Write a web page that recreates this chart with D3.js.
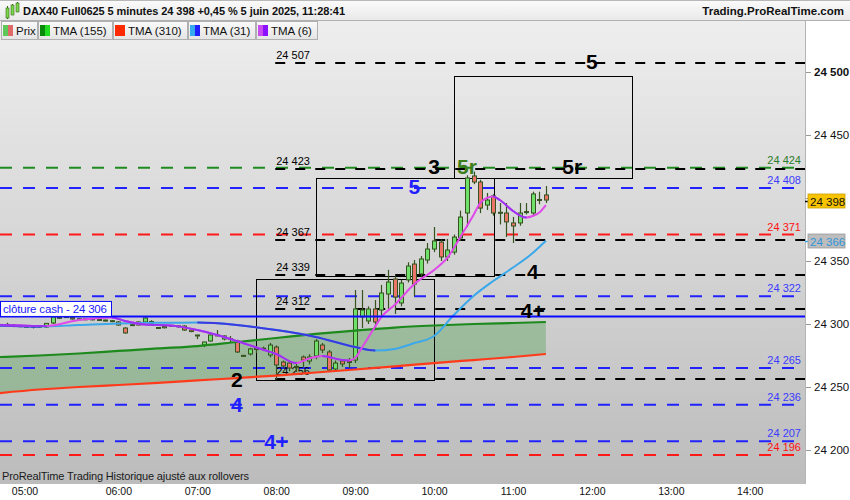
<!DOCTYPE html>
<html><head><meta charset="utf-8">
<script src="https://cdn.jsdelivr.net/npm/d3@7"></script>
<style>body{margin:0;background:#fff}svg{display:block;font-family:"Liberation Sans",Arial,sans-serif}</style>
</head><body><svg id="c" width="850" height="500"></svg>
<script>
// ---------- DATA ----------
const candleTimes = ["04:30","04:35","04:40","04:45","04:50","04:55","05:00","05:05","05:10","05:15","05:20","05:25","05:30","05:35","05:40","05:45","05:50","05:55","06:00","06:05","06:10","06:15","06:20","06:25","06:30","06:35","06:40","06:45","06:50","06:55","07:00","07:05","07:10","07:15","07:20","07:25","07:30","07:35","07:40","07:45","07:50","07:55","08:00","08:05","08:10","08:15","08:20","08:25","08:30","08:35","08:40","08:45","08:50","08:55","09:00","09:05","09:10","09:15","09:20","09:25","09:30","09:35","09:40","09:45","09:50","09:55","10:00","10:05","10:10","10:15","10:20","10:25","10:30","10:35","10:40","10:45","10:50","10:55","11:00","11:05","11:10","11:15","11:20","11:25"];
const opens  = [24299,24299.5,24299,24298.5,24298,24297.5,24297.8,24297.6,24300.8,24305,24305.4,24305,24304,24303.5,24304,24303.2,24303,24302.5,24301.6,24296.8,24299.2,24299.2,24301.6,24302,24296.9,24297,24298.5,24298.4,24298.4,24295.2,24291,24283.3,24286.5,24291,24288.1,24288.2,24286.5,24274.8,24276.2,24280.2,24280,24275.4,24281.7,24269.8,24269,24266,24273.8,24270.6,24274.6,24283.3,24277.8,24264.3,24270.6,24269.5,24271.4,24305.6,24302.4,24311.9,24311.1,24323.8,24335.7,24316.7,24335,24347.6,24339.7,24350.8,24359.5,24365,24353.2,24357.1,24368.3,24388.1,24417.5,24412.7,24394.4,24401.6,24388.5,24388.1,24380.2,24380.2,24389,24388.1,24398.6,24402.4];
const highs  = [24300,24301,24300,24299.5,24299,24298.5,24298.5,24300.5,24306,24305.8,24306,24305.5,24304.5,24304.5,24304.5,24303.6,24303.5,24303,24302.4,24297.5,24300,24302,24305.2,24303,24297.3,24298.5,24299,24299,24299,24296,24291.3,24286,24292,24295.2,24291,24290.5,24287.5,24275.2,24281,24280.4,24282,24285,24283,24271,24270.5,24270,24275,24276,24288,24285,24279.4,24271,24272,24273,24327,24327,24314,24319,24331,24343,24338,24335,24349,24350.8,24354,24364.3,24377,24367,24367.5,24371,24390,24418,24421,24414.5,24404,24403,24396,24396,24385,24396,24396,24405,24405,24409.5];
const lows   = [24298,24298.5,24297.5,24297.5,24297,24296.5,24297,24297,24300,24304.3,24305,24303.5,24303,24303,24303,24302.8,24302,24301.5,24298.6,24292.3,24298.5,24299,24301,24300,24296.3,24296.5,24298,24297,24294.5,24293.5,24288,24281.7,24286,24290.3,24287,24285.7,24277,24274.2,24275,24277,24278.5,24273.5,24256,24265,24262.5,24262,24266,24268,24272,24277,24262,24262,24266,24265,24269,24296.8,24300,24296.8,24306,24312,24308,24314,24333,24322,24337,24348,24357,24350,24350,24355,24366,24377,24411,24388,24390.5,24386,24379,24369,24364.3,24378,24387,24386,24395,24396];
const closes = [24299.5,24299,24298.5,24298,24297.5,24297.8,24297.6,24300.5,24305.6,24304.8,24305.6,24304,24303.5,24304,24303.3,24303.1,24302.5,24302,24299.2,24292.9,24299,24301.6,24304.8,24300.5,24296.8,24298,24298.4,24298,24295.2,24294,24290.8,24285.7,24291.3,24290.8,24290.5,24288,24277.8,24274.6,24280.2,24280,24280.8,24283.3,24267.5,24266.7,24265.1,24265.9,24271.4,24273.8,24286.5,24279.4,24263.5,24269,24268.3,24270.2,24311.9,24311.1,24311.9,24301.6,24324.6,24333.3,24321.4,24332.5,24346,24331.7,24351.6,24359.5,24365.9,24353.2,24358.7,24369,24384.9,24415.9,24412.7,24392,24398.4,24388.1,24388,24381,24377.8,24388.1,24388.7,24403.2,24398.2,24398.4];

// moving averages
const slowTimes = ["04:30","05:00","05:30","06:00","06:30","07:00","07:30","08:00","08:30","09:00","09:30","10:00","10:30","11:00","11:25"];
const tma155 = [24273.8,24275,24276.6,24278.6,24280.6,24282.5,24285.7,24288.9,24292.1,24294.8,24297.2,24298.8,24300,24300.8,24301.6];
const tma310 = [24245.2,24248,24250,24251.6,24253.2,24255.2,24257.1,24259.1,24261.5,24263.9,24266.3,24269,24271.4,24273.8,24276.2];
const tma31Times = ["04:30","05:00","05:30","06:00","06:30","07:00","07:30","08:00","08:30","09:00","09:15","09:30","09:45","10:00","10:15","10:30","10:45","11:00","11:15","11:25"];
const tma31 = [24298.8,24298,24299.2,24300.4,24301,24301.1,24299.2,24295.2,24289.7,24281.7,24279,24280.2,24284.9,24290.5,24307.1,24322.2,24334.1,24344.8,24356.3,24366];
const tma6Times = ["04:30","04:45","05:05","05:30","05:55","06:05","06:20","06:40","07:00","07:15","07:30","07:45","08:00","08:15","08:25","08:35","08:50","08:55","09:00","09:05","09:15","09:20","09:30","09:45","10:00","10:10","10:20","10:25","10:30","10:35","10:40","10:45","10:50","11:00","11:10","11:15","11:20","11:25"];
const tma6 = [24299.2,24298.8,24298.4,24303.2,24305.2,24302.4,24299.6,24298.8,24295.2,24291.3,24286.5,24281.3,24276.2,24269,24272.6,24274.6,24271.4,24271,24273,24281,24297.6,24305.6,24315.1,24331.7,24342.9,24352.4,24369,24377.8,24386.5,24396,24400,24401.2,24398.4,24389.7,24384.5,24385.7,24388.5,24394.4];

// horizontal levels
const colorLevels = [24424,24408,24371,24322,24265,24236,24207,24196];
const colorLevelKinds = ["green","blue","red","blue","blue","blue","blue","red"];
const blackLevels = [24507,24423,24367,24339,24312,24256];
const blackLevelStart = "08:00";
const cashClose = 24306;

// boxes (time start, time end, price low, price high)
const boxStarts = ["07:45","08:30","10:15"];
const boxEnds   = ["10:00","10:45","12:30"];
const boxLows   = [24256,24338,24416];
const boxHighs  = [24336,24416,24497];

// annotations
const noteTexts  = ["5","3","5r","5r","5","4","4+","2","4","4+"];
const noteTimes  = ["12:00","10:00","10:25","11:45","09:45","11:15","11:15","07:30","07:30","08:00"];
const notePrices = [24508,24425,24425,24425,24409,24342,24311,24256,24236,24207];
const noteKinds  = ["black","black","green","black","blue","black","black","black","blue","blue"];

const priceTicks = [24200,24250,24300,24350,24400,24450,24500];
const timeTicks = ["05:00","06:00","07:00","08:00","09:00","10:00","11:00","12:00","13:00","14:00"];
const lastPrice = 24398, lastTma31 = 24366;

// ---------- CHART ----------
const svg = d3.select("#c");
const PL=0, PR=805, PT=21, PB=484;
const parseT = s => { const [h,m] = s.split(":").map(Number); return h*60+m; };
const x = d3.scaleLinear().domain([parseT("04:30"), parseT("14:42")]).range([PL, PR]);
const y = d3.scaleLinear().domain([24200, 24500]).range([450, 72]);
const fmt = v => d3.format(",")(Math.round(v)).replace(",", " ");
const kindColor = {green:"#1f8a1f", blue:"#2222ff", red:"#ff1a1a", black:"#000"};
const labelColor = {green:"#2a7d2a", blue:"#3b3bff", red:"#ff1010"};

const defs = svg.append("defs");
const bg = defs.append("linearGradient").attr("id","bg").attr("x1",0).attr("x2",0).attr("y1",0).attr("y2",1);
bg.append("stop").attr("offset","0%").attr("stop-color","#eeeeee");
bg.append("stop").attr("offset","100%").attr("stop-color","#bcbcbc");
const hg = defs.append("linearGradient").attr("id","hg").attr("x1",0).attr("x2",0).attr("y1",0).attr("y2",1);
hg.append("stop").attr("offset","0%").attr("stop-color","#fbfbfb");
hg.append("stop").attr("offset","100%").attr("stop-color","#e9e9e9");
const lg = defs.append("linearGradient").attr("id","lg").attr("x1",0).attr("x2",0).attr("y1",0).attr("y2",1);
lg.append("stop").attr("offset","0%").attr("stop-color","#fafafa");
lg.append("stop").attr("offset","100%").attr("stop-color","#e4e4e4");
defs.append("clipPath").attr("id","plotclip").append("rect").attr("x",PL).attr("y",PT).attr("width",PR-PL).attr("height",PB-PT);

svg.append("rect").attr("width",850).attr("height",500).attr("fill","#fff");
svg.append("rect").attr("x",PL).attr("y",PT).attr("width",PR-PL).attr("height",PB-PT).attr("fill","url(#bg)");

const plot = svg.append("g").attr("clip-path","url(#plotclip)");

// fill between TMA155 and TMA310
plot.append("path")
  .datum(slowTimes.map((t,i)=>({t:parseT(t), a:tma155[i], b:tma310[i]})))
  .attr("d", d3.area().x(d=>x(d.t)).y0(d=>y(d.b)).y1(d=>y(d.a)).curve(d3.curveMonotoneX))
  .attr("fill","rgba(0,128,0,0.23)");

// colored dashed levels
plot.selectAll(".cl").data(colorLevels).join("line")
  .attr("x1",PL).attr("x2",PR).attr("y1",d=>y(d)).attr("y2",d=>y(d))
  .attr("stroke",(d,i)=>kindColor[colorLevelKinds[i]]).attr("stroke-width",2)
  .attr("stroke-dasharray","12,11");
// black dashed levels
plot.selectAll(".bl").data(blackLevels).join("line")
  .attr("x1",x(parseT(blackLevelStart))-1).attr("x2",PR).attr("y1",d=>Math.round(y(d))).attr("y2",d=>Math.round(y(d)))
  .attr("stroke","#000").attr("stroke-width",2).attr("stroke-dasharray","10,10");
plot.selectAll(".blt").data(blackLevels).join("text")
  .attr("x",x(parseT(blackLevelStart))).attr("y",d=>Math.round(y(d))-4)
  .attr("font-size",11).attr("fill","#000").text(d=>fmt(d));
plot.selectAll(".clt").data(colorLevels).join("text")
  .attr("x",801).attr("y",d=>y(d)-4).attr("text-anchor","end")
  .attr("font-size",11).attr("fill",(d,i)=>labelColor[colorLevelKinds[i]]).text(d=>fmt(d));

// boxes
plot.selectAll(".bx").data(boxStarts).join("rect")
  .attr("x",(d,i)=>Math.round(x(parseT(d)))+0.5)
  .attr("y",(d,i)=>Math.round(y(boxHighs[i]))+0.5)
  .attr("width",(d,i)=>Math.round(x(parseT(boxEnds[i]))-x(parseT(d))))
  .attr("height",(d,i)=>Math.round(y(boxLows[i])-y(boxHighs[i])))
  .attr("fill","none").attr("stroke","#000").attr("stroke-width",1);

// candles
const candles = candleTimes.map((t,i)=>({t:parseT(t), o:opens[i], h:highs[i], l:lows[i], c:closes[i]}));
const wick = "#34531f";
const cg = plot.append("g");
cg.selectAll(".w").data(candles).join("line")
  .attr("x1",d=>Math.round(x(d.t))+0.5).attr("x2",d=>Math.round(x(d.t))+0.5)
  .attr("y1",d=>y(d.h)).attr("y2",d=>y(d.l)).attr("stroke",wick).attr("stroke-width",1.2);
cg.selectAll(".dj").data(candles.filter(d=>Math.abs(d.o-d.c)<0.8)).join("line")
  .attr("x1",d=>Math.round(x(d.t))-2).attr("x2",d=>Math.round(x(d.t))+3)
  .attr("y1",d=>y((d.o+d.c)/2)).attr("y2",d=>y((d.o+d.c)/2)).attr("stroke",wick).attr("stroke-width",2);
cg.selectAll(".bd").data(candles.filter(d=>Math.abs(d.o-d.c)>=0.8)).join("rect")
  .attr("x",d=>Math.round(x(d.t))-1.5).attr("width",4)
  .attr("y",d=>y(Math.max(d.o,d.c))).attr("height",d=>Math.abs(y(d.o)-y(d.c)))
  .attr("fill",d=>d.c>d.o?"#6fe06a":"#ec7468").attr("stroke",wick).attr("stroke-width",1);

// moving averages
let clipId = 0;
function drawMA(times, vals, upCol, downCol, width){
  const pts = times.map((t,i)=>({t:parseT(t), v:vals[i]}));
  const line = d3.line().x(d=>x(d.t)).y(d=>y(d.v)).curve(d3.curveMonotoneX);
  plot.append("path").datum(pts).attr("d",line).attr("fill","none").attr("stroke",upCol).attr("stroke-width",width);
  if (downCol && downCol!==upCol){
    const id = "ma"+(clipId++);
    const cp = defs.append("clipPath").attr("id",id);
    for (let i=0;i<pts.length-1;i++){
      if (pts[i+1].v < pts[i].v){
        cp.append("rect").attr("x",x(pts[i].t)).attr("y",0).attr("width",x(pts[i+1].t)-x(pts[i].t)+0.5).attr("height",500);
      }
    }
    plot.append("g").attr("clip-path","url(#"+id+")").append("path").datum(pts).attr("d",line)
      .attr("fill","none").attr("stroke",downCol).attr("stroke-width",width);
  }
}
drawMA(slowTimes, tma310, "#ff3a1a", null, 2.2);
drawMA(slowTimes, tma155, "#1d8a1d", null, 2.2);
drawMA(tma31Times, tma31, "#3aa8ea", "#3a3ae0", 2);
drawMA(tma6Times, tma6, "#e048ea", "#9a33f2", 2);

// cash close line
plot.append("line").attr("x1",PL).attr("x2",PR).attr("y1",y(cashClose)).attr("y2",y(cashClose))
  .attr("stroke","#0a0aff").attr("stroke-width",2);
plot.append("rect").attr("x",0.5).attr("y",y(cashClose)-15).attr("width",111).attr("height",15)
  .attr("fill","#fff").attr("stroke","#0a0aff").attr("stroke-width",1);
plot.append("text").attr("x",3).attr("y",y(cashClose)-3.5).attr("font-size",11.5).attr("fill","#1a1aff")
  .attr("textLength",104).text("clôture cash -  " + fmt(cashClose));

// annotations
plot.selectAll(".nt").data(noteTexts).join("text")
  .attr("x",(d,i)=>x(parseT(noteTimes[i]))).attr("y",(d,i)=>y(notePrices[i]))
  .attr("dy","0.36em").attr("text-anchor","middle").attr("font-size",21).attr("font-weight","bold")
  .attr("fill",(d,i)=>({black:"#000",green:"#3c7f1a",blue:"#1f1fff"})[noteKinds[i]]).text(d=>d);

// footer inside plot
svg.append("text").attr("x",2).attr("y",480).attr("font-size",11).attr("fill","#1a1a1a")
  .attr("textLength",247).text("ProRealTime Trading  Historique ajusté aux rollovers");

// right axis
svg.append("line").attr("x1",PR+0.5).attr("x2",PR+0.5).attr("y1",PT).attr("y2",PB).attr("stroke","#b4b4b4");
const ra = svg.append("g").attr("transform",`translate(${PR+1},0)`)
  .call(d3.axisRight(y).tickValues(priceTicks).tickSize(5).tickPadding(3)
    .tickFormat(v => Math.abs(v - lastPrice) < 8 ? "" : fmt(v)));
ra.select(".domain").remove();
ra.selectAll("line").attr("stroke","#999");
ra.selectAll("text").attr("font-size",11.5).attr("fill","#111").attr("font-family","Liberation Sans, Arial, sans-serif")
  .attr("font-weight",d=>d===24500?"bold":"normal");

// value boxes on the axis
function axisBox(v, fill, txtCol, tickCol){
  svg.append("line").attr("x1",PR).attr("x2",PR+5).attr("y1",Math.round(y(v))+0.5).attr("y2",Math.round(y(v))+0.5).attr("stroke",tickCol).attr("stroke-width",1.5);
  svg.append("rect").attr("x",808).attr("y",Math.round(y(v))-7).attr("width",37).attr("height",14)
    .attr("fill",fill).attr("stroke",d3.color(fill).darker(0.6)).attr("stroke-width",0.8);
  svg.append("text").attr("x",810).attr("y",Math.round(y(v))+4.5).attr("font-size",11.5).attr("fill",txtCol).text(fmt(v));
}
axisBox(lastPrice, "#f8c400", "#111", "#000");
axisBox(lastTma31, "#bdbdbd", "#2f95d8", "#3aa8ea");

// bottom axis
const ba = svg.append("g").attr("transform",`translate(0,${PB})`)
  .call(d3.axisBottom(x).tickValues(timeTicks.map(parseT)).tickSize(0).tickPadding(4)
  .tickFormat(m => d3.format("02d")(Math.floor(m/60)) + ":" + d3.format("02d")(m%60)));
ba.select(".domain").remove();
ba.selectAll("text").attr("font-size",10.5).attr("fill","#111").attr("font-family","Liberation Sans, Arial, sans-serif");
ba.selectAll(".tick").filter((d,i)=>i===0).select("text").attr("dx",-15);

// header
svg.append("rect").attr("x",0).attr("y",0).attr("width",850).attr("height",20).attr("fill","url(#hg)");
svg.append("line").attr("x1",0).attr("x2",850).attr("y1",0.5).attr("y2",0.5).attr("stroke","#b8b8b8");
svg.append("line").attr("x1",0).attr("x2",850).attr("y1",20.5).attr("y2",20.5).attr("stroke","#b0b0b0");
// icon
const ic = svg.append("g");
[[6,8,14,5,17],[11,5,11,3,13],[16,3,8,1,10]].forEach(a=>{
  ic.append("line").attr("x1",a[0]+1.5).attr("x2",a[0]+1.5).attr("y1",a[3]+1).attr("y2",a[4]+2).attr("stroke","#3a6a1a");
  ic.append("rect").attr("x",a[0]).attr("y",a[1]).attr("width",3).attr("height",a[2]-a[1]+4).attr("fill","#7ad64a").attr("stroke","#3a6a1a").attr("stroke-width",0.6);
});
svg.append("text").attr("x",23).attr("y",15).attr("font-size",11).attr("font-weight","bold").attr("fill","#111")
  .attr("textLength",322).text("DAX40 Full0625 5 minutes 24 398 +0,45 % 5 juin 2025, 11:28:41");
svg.append("text").attr("x",844).attr("y",15).attr("text-anchor","end").attr("font-size",11.5).attr("font-weight","bold").attr("fill","#111")
  .text("Trading.ProRealTime.com");

// legend row
const legNames = ["Prix","TMA (155)","TMA (310)","TMA (31)","TMA (6)"];
const legColA = ["#5cc85c","#0a8a0a","#ff2a00","#35aaee","#c84cf0"];
const legColB = ["#e06a6a","#22dd22","#ff2a00","#2020ff","#8a10ff"];
const legX = [1,38,113,188,256];
const legW = [36,74,74,67,61];
const leg = svg.append("g");
legNames.forEach((n,i)=>{
  const g = leg.append("g").attr("transform",`translate(${legX[i]},21)`);
  g.append("rect").attr("x",0.5).attr("y",0.5).attr("width",legW[i]).attr("height",18).attr("fill","url(#lg)").attr("stroke","#b0b0b0");
  g.append("rect").attr("x",2).attr("y",4).attr("width",5).attr("height",11).attr("fill",legColA[i]);
  g.append("rect").attr("x",7).attr("y",4).attr("width",5).attr("height",11).attr("fill",legColB[i]);
  g.append("text").attr("x",15).attr("y",14).attr("font-size",11.5).attr("fill","#111").text(n);
});
</script></body></html>
